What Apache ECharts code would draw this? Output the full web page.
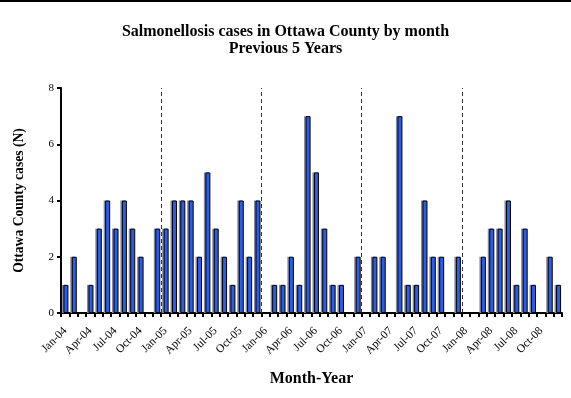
<!DOCTYPE html>
<html><head><meta charset="utf-8">
<script src="https://cdn.jsdelivr.net/npm/echarts@6/dist/echarts.min.js"></script>
<style>html,body{margin:0;padding:0;background:#fff}#c{width:571px;height:398px}</style>
</head><body><div id="c"></div>
<script>
const years = ['04','05','06','07','08'];
const monthNames = ['Jan','Feb','Mar','Apr','May','Jun','Jul','Aug','Sep','Oct','Nov','Dec'];
const categories = [];
years.forEach(y => monthNames.forEach(m => categories.push(m + '-' + y)));
const cases2004 = [1,2,0,1,3,4,3,4,3,2,0,3];
const cases2005 = [3,4,4,4,2,5,3,2,1,4,2,4];
const cases2006 = [0,1,1,2,1,7,5,3,1,1,0,2];
const cases2007 = [0,2,2,0,7,1,1,4,2,2,0,2];
const cases2008 = [0,0,2,3,3,4,1,3,1,0,2,1];
const cases = [].concat(cases2004, cases2005, cases2006, cases2007, cases2008);
const yearBoundaries = [12, 24, 36, 48];
const yTicks = [0, 2, 4, 6, 8];

const font = '"Liberation Serif", "Times New Roman", serif';
const chart = echarts.init(document.getElementById('c'));
chart.setOption({
  animation: false,
  title: {
    text: 'Salmonellosis cases in Ottawa County by month\nPrevious 5 Years',
    left: 'center', top: 18,
    textStyle: { fontFamily: font, fontSize: 16, fontWeight: 'bold', color: '#000', lineHeight: 17 }
  },
  graphic: [{ type: 'rect', shape: { x: 0, y: 0, width: 571, height: 2 }, style: { fill: '#000' } }],
  grid: { left: 61, right: 9, top: 88, bottom: 85 },
  xAxis: [{
    type: 'category', data: categories, boundaryGap: true,
    name: 'Month-Year', nameLocation: 'middle', nameGap: 58,
    nameTextStyle: { fontFamily: font, fontSize: 16, fontWeight: 'bold', color: '#000' },
    axisLine: { lineStyle: { color: '#000', width: 2 } },
    axisTick: { show: true, alignWithLabel: false, interval: 0, length: 4, lineStyle: { color: '#000', width: 2 } },
    axisLabel: { interval: 2, rotate: 45, fontFamily: font, fontSize: 11.5, color: '#000', margin: 16 }
  }, {
    type: 'value', min: 0, max: 60, show: false
  }],
  yAxis: {
    type: 'value', min: 0, max: 8, interval: 2,
    name: 'Ottawa County cases (N)', nameLocation: 'middle', nameGap: 35,
    nameTextStyle: { fontFamily: font, fontSize: 13.6, fontWeight: 'bold', color: '#000' },
    axisLine: { show: true, lineStyle: { color: '#000', width: 2 } },
    axisTick: { show: true, length: 4, lineStyle: { color: '#000', width: 2 } },
    splitLine: { show: false },
    axisLabel: { fontFamily: font, fontSize: 11, color: '#000', margin: 7,
      formatter: v => yTicks.indexOf(v) >= 0 ? String(v) : '' }
  },
  series: [{
    type: 'bar', data: cases, barWidth: 5, barGap: '-70%', silent: true,
    itemStyle: { color: '#8a8a8a' }
  }, {
    type: 'bar', data: cases, barWidth: 5, barGap: '-70%',
    itemStyle: { color: '#2a5cf0', borderColor: '#000', borderWidth: 1 }
  }, {
    type: 'scatter', xAxisIndex: 1, data: [[0, 0]], symbolSize: 0, silent: true,
    markLine: {
      symbol: 'none', silent: true, label: { show: false },
      lineStyle: { color: '#333', type: [4, 3], width: 1 },
      data: yearBoundaries.map(v => ({ xAxis: v }))
    }
  }]
});
</script></body></html>
